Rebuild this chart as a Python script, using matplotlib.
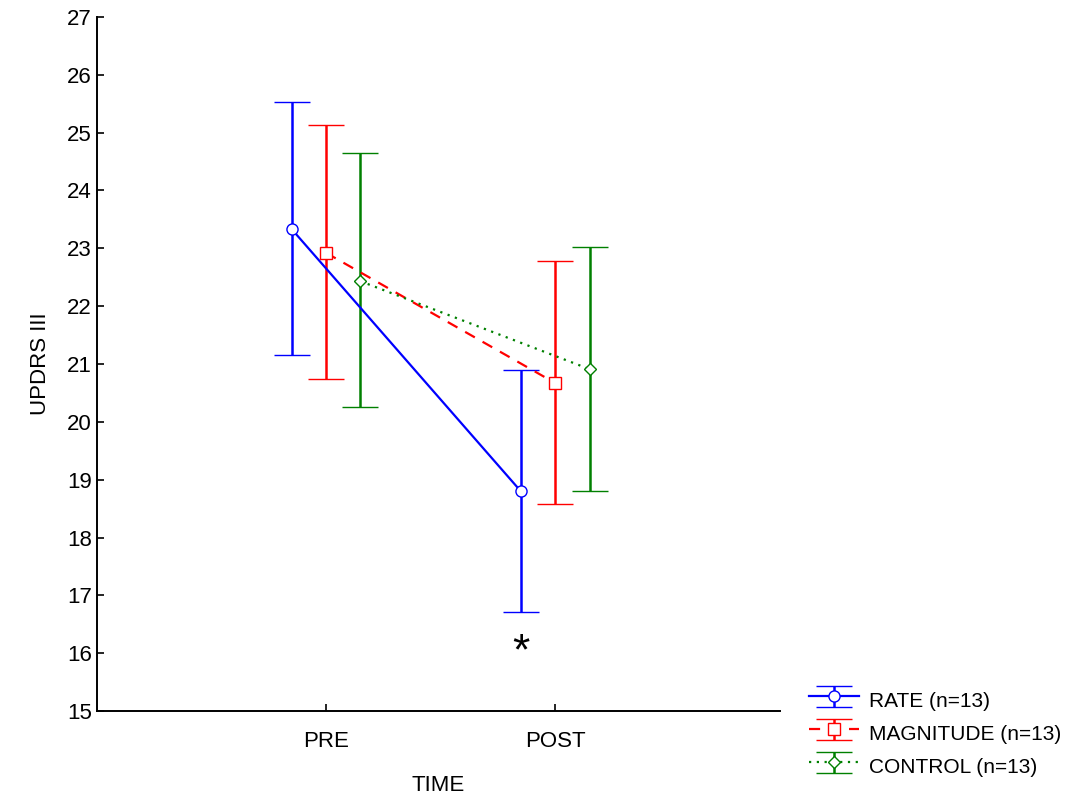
import matplotlib.pyplot as plt
import numpy as np

plt.rcParams['font.family'] = ['Liberation Sans', 'DejaVu Sans']

times = ['PRE', 'POST']
groups = ['RATE (n=13)', 'MAGNITUDE (n=13)', 'CONTROL (n=13)']
rate_mean = [23.33, 18.80]
rate_lo = [21.15, 16.71]
rate_hi = [25.53, 20.90]
mag_mean = [22.92, 20.67]
mag_lo = [20.74, 18.58]
mag_hi = [25.13, 22.78]
ctrl_mean = [22.43, 20.91]
ctrl_lo = [20.26, 18.80]
ctrl_hi = [24.65, 23.02]

series = [
    (rate_mean, rate_lo, rate_hi, '#0000ff', '-', 'o', -0.15),
    (mag_mean, mag_lo, mag_hi, '#ff0000', (0, (5, 4)), 's', 0.0),
    (ctrl_mean, ctrl_lo, ctrl_hi, '#008000', (0, (1, 2.5)), 'D', 0.15),
]

fig = plt.figure(figsize=(10.89, 7.99), dpi=100)
ax = fig.add_axes([0.089, 0.110, 0.627, 0.869])

x = np.arange(len(times))
for (m, lo, hi, c, ls, mk, off), name in zip(series, groups):
    m = np.array(m)
    yerr = [m - np.array(lo), np.array(hi) - m]
    ax.errorbar(x + off, m, yerr=yerr, color=c, ls=ls, lw=1.6,
                marker=mk, ms=8 if mk != 'D' else 6.5, mfc='white', mec=c,
                mew=1.0, capsize=13, capthick=1.8, elinewidth=1.8,
                label=name)

ax.text(x[1] - 0.15, 16.0, '*', fontsize=32, ha='center', va='center')

ax.set_xlim(-1, 1.98)
ax.set_ylim(15, 27)
ax.set_xticks(x)
ax.set_xticklabels(times, fontsize=16)
ax.set_yticks(range(15, 28))
ax.tick_params(axis='both', direction='in', length=5, width=1.2, labelsize=16)
ax.tick_params(axis='x', pad=14)
for s in ['top', 'right']:
    ax.spines[s].set_visible(False)
for s in ['left', 'bottom']:
    ax.spines[s].set_linewidth(1.4)

ax.set_xlabel('TIME', fontsize=16, labelpad=17)
ax.set_ylabel('UPDRS III', fontsize=16, labelpad=12)

ax.legend(loc='lower left', bbox_to_anchor=(1.03, -0.11), frameon=False,
          fontsize=15, handlelength=2.4, handleheight=1.6,
          handletextpad=0.5, labelspacing=0.3, borderaxespad=0)

fig.savefig('out.png', dpi=100)
